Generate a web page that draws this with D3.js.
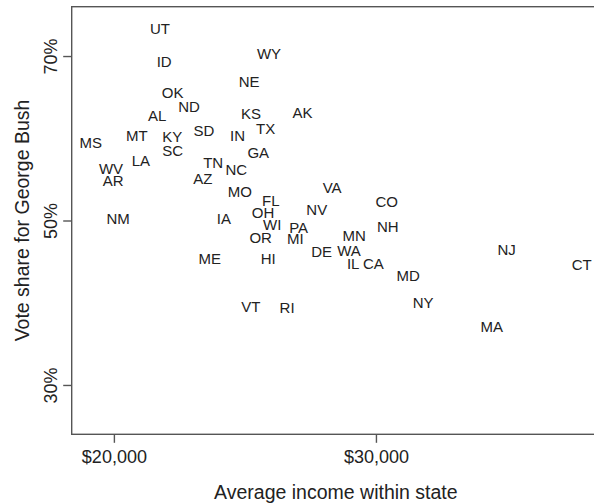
<!DOCTYPE html>
<html>
<head>
<meta charset="utf-8">
<script src="https://cdn.jsdelivr.net/npm/d3@7"></script>
<style>
  body { margin: 0; background: #fff; }
  text { font-family: "Liberation Sans", Arial, Helvetica, sans-serif; fill: #222; }
</style>
</head>
<body>
<svg id="chart" width="594" height="504"></svg>
<script>
// state abbreviations, average income, Bush vote share (%)
const states = ["UT","ID","WY","NE","OK","ND","AL","KS","AK","TX","SD","MS","MT","KY","IN","SC","GA","LA","WV","AR",
  "TN","NC","AZ","MO","FL","OH","NV","NM","IA","WI","PA","OR","MI","VA","CO","NH","MN","DE","WA","IL","CA","ME","HI",
  "MD","VT","RI","NJ","CT","NY","MA"];
const income = [21760,21920,25920,25160,22240,22870,21650,25230,27200,25790,23440,19120,20880,22230,24720,22240,25510,21030,19890,19970,
  23790,24670,23390,24810,25990,25690,27740,20160,24200,26040,27050,25600,26920,28330,30410,30450,29170,27930,28970,29130,29900,23660,25890,
  31230,25230,26610,34990,37850,31800,34420];
const voteShare = [73.3,69.3,70.3,66.9,65.5,63.8,62.8,63.0,63.1,61.2,60.9,59.5,60.3,60.2,60.3,58.5,58.3,57.25,56.3,54.9,
  57.1,56.2,55.1,53.5,52.4,51.0,51.3,50.2,50.2,49.5,49.15,47.9,47.8,54.05,52.3,49.2,48.2,46.2,46.35,44.7,44.8,45.35,45.4,
  43.3,39.55,39.4,46.5,44.6,40.0,37.1];
const xTicks = [20000, 30000];
const yTicks = [30, 50, 70];

const data = states.map((s, i) => ({state: s, income: income[i], vote: voteShare[i]}));

const layout = {left: 71.7, right: 600, top: 6.7, bottom: 434.3};
const svg = d3.select("#chart");

const x = d3.scaleLinear().domain([18390, 38550]).range([layout.left, layout.right]);
const y = d3.scaleLinear().domain([24, 76]).range([layout.bottom, layout.top]);

const axisColor = "#555";

// frame (right side runs off the canvas)
svg.append("rect")
  .attr("x", layout.left).attr("y", layout.top)
  .attr("width", layout.right - layout.left)
  .attr("height", layout.bottom - layout.top)
  .attr("fill", "none").attr("stroke", axisColor).attr("stroke-width", 1.4);

const fmtDollar = d3.format("$,");

const xAxis = svg.append("g")
  .attr("transform", `translate(0,${layout.bottom})`)
  .call(d3.axisBottom(x).tickValues(xTicks).tickSize(8.5).tickPadding(7).tickFormat(fmtDollar));

const yAxis = svg.append("g")
  .attr("transform", `translate(${layout.left},0)`)
  .call(d3.axisLeft(y).tickValues(yTicks).tickSize(8.5).tickFormat(d => d + "%"));

[xAxis, yAxis].forEach(g => {
  g.select(".domain").remove();
  g.selectAll(".tick line").attr("stroke", axisColor).attr("stroke-width", 1.4);
  g.selectAll(".tick text").attr("font-size", 18).attr("font-family", null).attr("fill", "#222");
});

yAxis.selectAll(".tick text")
  .attr("x", null).attr("dy", null)
  .attr("text-anchor", "middle")
  .attr("transform", "translate(-15,0) rotate(-90)");

// state labels
svg.append("g")
  .selectAll("text")
  .data(data)
  .join("text")
  .attr("x", d => x(d.income))
  .attr("y", d => y(d.vote))
  .attr("dy", "0.36em")
  .attr("text-anchor", "middle")
  .attr("font-size", 15)
  .text(d => d.state);

// axis titles
svg.append("text")
  .attr("x", (layout.left + layout.right) / 2)
  .attr("y", 499)
  .attr("text-anchor", "middle")
  .attr("font-size", 19.5)
  .text("Average income within state");

svg.append("text")
  .attr("transform", `translate(28.5,${(layout.top + layout.bottom) / 2}) rotate(-90)`)
  .attr("text-anchor", "middle")
  .attr("font-size", 19.5)
  .text("Vote share for George Bush");
</script>
</body>
</html>
